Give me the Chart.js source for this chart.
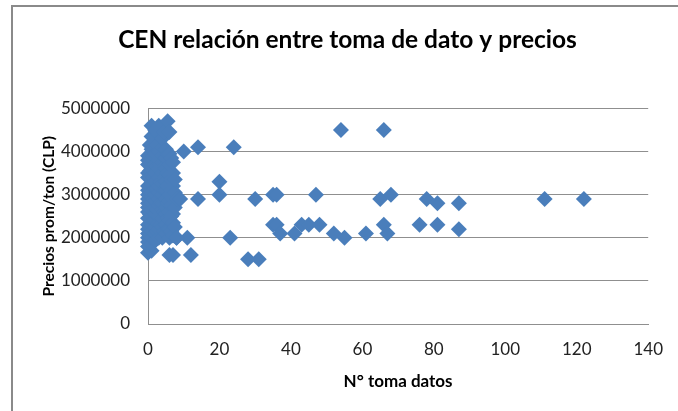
<!DOCTYPE html>
<html>
<head>
<meta charset="utf-8">
<script src="https://cdn.jsdelivr.net/npm/chart.js@4/dist/chart.umd.min.js"></script>
<style>
  html, body { margin: 0; padding: 0; background: #fff; }
  #wrap { position: relative; width: 678px; height: 411px; overflow: hidden; }
  #frame { position: absolute; left: 11px; top: 5px; width: 800px; height: 600px;
           border-top: 2px solid #8a8a8a; border-left: 2px solid #8a8a8a; pointer-events: none; }
  canvas { position: absolute; left: 0; top: 0; }
</style>
</head>
<body>
<div id="wrap">
  <canvas id="c" width="678" height="411"></canvas>
  <div id="frame"></div>
</div>
<script>
// ---- data ----
const chartTitle = "CEN relación entre toma de dato y precios";
const xAxisTitle = "N° toma datos";
const yAxisTitle = "Precios prom/ton (CLP)";
const xTickValues = [0, 20, 40, 60, 80, 100, 120, 140];
const yTickValues = [0, 1000000, 2000000, 3000000, 4000000, 5000000];

// N° toma datos (x) and precio prom/ton (y), paired by index
const tomaDatos = [
  // dense cluster near the axis
  0,0,0,0,0,0,0,0,0,0,0,0,0,0,0,0,0,0,0,0,
  0.5,0.5,0.5,0.5,0.5,
  1,1,1,1,1,1,1,1,1,1,1,1,1,1,1,1,1,
  1.5,1.5,1.5,1.5,
  2,2,2,2,2,2,2,2,2,2,2,2,2,2,
  2.5,2.5,2.5,2.5,2.5,
  3,3,3,3,3,3,3,3,3,3,3,3,3,3,
  3.5,3.5,3.5,3.5,
  4,4,4,4,4,4,4,4,4,4,4,4,
  4.5,4.5,4.5,4.5,4.5,4.5,
  5,5,5,5,5,5,5,5,5,5,5.5,
  5.5,5.5,5.5,5.5,5.5,5.5,
  6,6,6,6,6,6,6,6,6,6,6,
  6.5,6.5,6.5,6.5,6.5,6.5,
  7,7,7,7,7,7,7,
  7.5,7.5,7.5,7.5,
  8,8,
  // scattered points
  10,14,24,20,20,14,9,23,11,8,7,12,
  30,35,36,47,28,31,35,36,37,41,43,45,48,52,55,61,54,66,66,67,65,68,76,78,81,81,87,87,111,122
];
const precios = [
  1650000,1800000,1900000,2000000,2100000,2200000,2300000,2450000,2600000,2700000,2800000,2900000,3000000,3100000,3200000,3400000,3500000,3700000,3800000,3900000,
  2050000,2550000,3050000,3550000,4150000,
  1700000,1850000,2000000,2150000,2300000,2500000,2650000,2800000,2950000,3050000,3250000,3450000,3600000,3850000,4050000,4350000,4600000,
  2400000,2900000,3400000,3900000,
  1950000,2100000,2250000,2400000,2550000,2700000,2850000,3000000,3150000,3300000,3500000,3700000,3950000,4500000,
  2150000,2650000,3150000,3650000,4150000,
  2000000,2200000,2350000,2500000,2750000,2900000,3050000,3200000,3400000,3600000,3800000,4000000,4400000,4600000,
  2300000,2800000,3300000,3700000,
  2000000,2250000,2450000,2650000,2800000,3000000,3250000,3500000,3750000,3900000,4100000,4300000,
  2150000,2600000,3100000,3400000,3650000,4450000,
  2100000,2300000,2550000,2700000,2900000,3100000,3300000,3600000,3850000,4050000,4700000,
  2200000,2450000,2800000,3200000,3500000,3950000,
  1600000,2000000,2200000,2400000,2600000,2850000,3000000,3450000,3700000,3950000,4450000,
  2150000,2500000,2750000,3100000,3350000,3850000,
  2050000,2350000,2550000,2900000,3200000,3500000,3750000,
  2250000,2700000,3050000,3350000,
  2000000,2900000,
  4000000,4100000,4100000,3300000,3000000,2900000,2900000,2000000,2000000,2000000,1600000,1600000,
  2900000,3000000,3000000,3000000,1500000,1500000,2300000,2300000,2100000,2100000,2300000,2300000,2300000,2100000,2000000,2100000,4500000,4500000,2300000,2100000,2900000,3000000,2300000,2900000,2800000,2300000,2800000,2200000,2900000,2900000
];

const points = tomaDatos.map((x, i) => ({ x: x, y: precios[i] }));

const gridGray = '#8f8f8f';
const labelFont = { family: 'Lato', size: 17 };

new Chart(document.getElementById('c'), {
  type: 'scatter',
  data: {
    datasets: [{
      data: points,
      pointStyle: 'rectRot',
      pointRadius: 8,
      pointHoverRadius: 8,
      backgroundColor: '#4A7EBB',
      borderColor: '#4A7EBB',
      borderWidth: 0,
      clip: false
    }]
  },
  options: {
    responsive: false,
    animation: false,
    devicePixelRatio: 1,
    layout: { padding: { left: 40, right: 23, top: 0, bottom: 0 } },
    plugins: {
      legend: { display: false },
      tooltip: { enabled: false },
      title: {
        display: true,
        text: chartTitle,
        color: '#000',
        font: { family: 'Lato', size: 24.5, weight: 'bold' },
        padding: { top: 25, bottom: 54 }
      }
    },
    scales: {
      x: {
        type: 'linear',
        min: xTickValues[0],
        max: xTickValues[xTickValues.length - 1],
        afterBuildTicks: (s) => { s.ticks = xTickValues.map(v => ({ value: v })); },
        afterFit: (s) => { s.height = 87; },
        grid: { display: false, drawTicks: false },
        border: { display: true, color: gridGray, width: 1 },
        ticks: { color: '#222', font: labelFont, padding: 15, maxRotation: 0,
                 callback: (v) => String(v) },
        title: { display: true, text: xAxisTitle, color: '#000',
                 font: { family: 'Lato', size: 17, weight: 'bold' },
                 padding: { top: 0, bottom: 19 } }
      },
      y: {
        type: 'linear',
        min: yTickValues[0],
        max: yTickValues[yTickValues.length - 1],
        afterBuildTicks: (s) => { s.ticks = yTickValues.map(v => ({ value: v })); },
        afterFit: (s) => { s.width = 108; },
        grid: { display: true, color: gridGray, lineWidth: 1, drawTicks: false },
        border: { display: true, color: gridGray, width: 1 },
        ticks: { color: '#222', font: labelFont, padding: 18,
                 callback: (v) => String(v) },
        title: { display: true, text: yAxisTitle, color: '#000',
                 font: { family: 'Lato', size: 15.5, weight: 'bold' },
                 padding: { top: 0, bottom: 0 } }
      }
    }
  }
});
</script>
</body>
</html>
